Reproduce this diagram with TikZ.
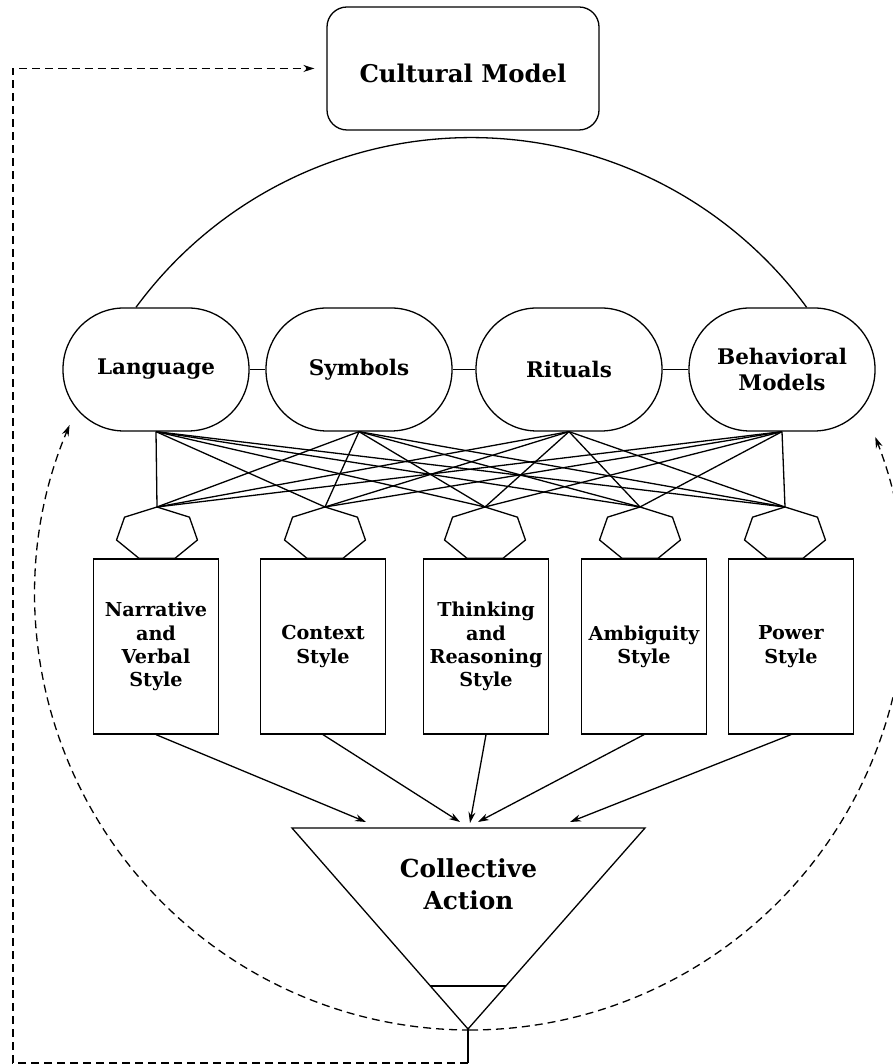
\documentclass[tikz,border=0pt]{standalone}
\usepackage{fontspec}
\setmainfont{DejaVu Serif}
\usetikzlibrary{arrows.meta,calc}
\begin{document}
\begin{tikzpicture}[x=1pt,y=1pt, line width=1.3pt,
  stad/.style={draw, rounded corners=61pt, minimum width=186pt, minimum height=123pt,
    inner sep=0pt, align=center, font=\fontsize{21.5}{26}\selectfont\bfseries},
  stylebox/.style={draw, minimum width=125pt, minimum height=175pt, inner sep=0pt,
    align=center, font=\fontsize{19.2}{23.3}\selectfont\bfseries},
  arr/.style={-{Stealth[length=11pt,width=7pt]}},
  dsh/.style={dash pattern=on 8pt off 5pt}
]
\useasboundingbox (0,0) rectangle (892,1064);

% Cultural model
\node[draw, rounded corners=20pt, minimum width=272pt, minimum height=123pt,
  inner sep=0pt, text height=29pt, text depth=0pt,
  font=\fontsize{24.4}{30}\selectfont\bfseries] (cm) at (463,995.5) {Cultural Model};

% stadiums
\node[stad] (s1) at (156,694.5) {Language};
\node[stad] (s2) at (359,694.5) {Symbols};
\node[stad] (s3) at (569,694.5) {Rituals};
\node[stad] (s4) at (782,694.5) {Behavioral\\Models};
\draw (s1.east) -- (s2.west);
\draw (s2.east) -- (s3.west);
\draw (s3.east) -- (s4.west);

% big arc
\draw ($(s1.north)+(-20,0)$) arc[start angle=143.7, end angle=36.3, radius=416.1];

% heptagons
\foreach \cx/\n in {157/1,325/2,485/3,640/4,785/5}{
  \draw[shift={(\cx,530)}] (90:41.5 and 27) -- (141.43:41.5 and 27) -- (192.86:41.5 and 27)
    -- (244.29:41.5 and 27) -- (295.71:41.5 and 27) -- (347.14:41.5 and 27)
    -- (38.57:41.5 and 27) -- cycle;
  \coordinate (h\n) at (\cx,557);
}

% web of lines
\foreach \s in {1,...,4}{
  \foreach \h in {1,...,5}{
    \draw (s\s.south) -- (h\h);
  }
}

% style boxes
\node[stylebox] (b1) at (156,417.5) {Narrative\\and\\Verbal\\Style};
\node[stylebox] (b2) at (323,417.5) {Context\\Style};
\node[stylebox] (b3) at (486,417.5) {Thinking\\and\\Reasoning\\Style};
\node[stylebox] (b4) at (644,417.5) {Ambiguity\\Style};
\node[stylebox] (b5) at (791,417.5) {Power\\Style};

% collective action triangle
\coordinate (tl) at (292,236);
\coordinate (tr) at (645,236);
\coordinate (ap) at (468,35);
\draw (tl) -- (tr) -- (ap) -- cycle;
\draw ($(ap)!0.214!(tl)$) -- ($(ap)!0.214!(tr)$);
\node[align=center, font=\fontsize{24.8}{32}\selectfont\bfseries] (ca) at (468.5,180) {Collective\\Action};

% arrows to triangle
\coordinate (t1) at (366,242);
\coordinate (t2) at (460,242);
\coordinate (t3) at (470,241);
\coordinate (t4) at (478,242);
\coordinate (t5) at (570,242);
\foreach \i in {1,...,5}{
  \draw[arr] (b\i.south) -- (t\i);
}

% feedback loop
\coordinate (bt) at (468,1);
\draw (ap) -- (bt);
\draw[dsh, arr, shorten >=12pt] (bt) -- (13,1) |- (cm.west);

% dashed circle arcs
\coordinate (cb) at (470,34);
\draw[dsh, arr] (cb) arc[start angle=270, end angle=157, radius=435];
\draw[dsh, arr] (cb) arc[start angle=270, end angle=381.3, radius=435];

\end{tikzpicture}
\end{document}
